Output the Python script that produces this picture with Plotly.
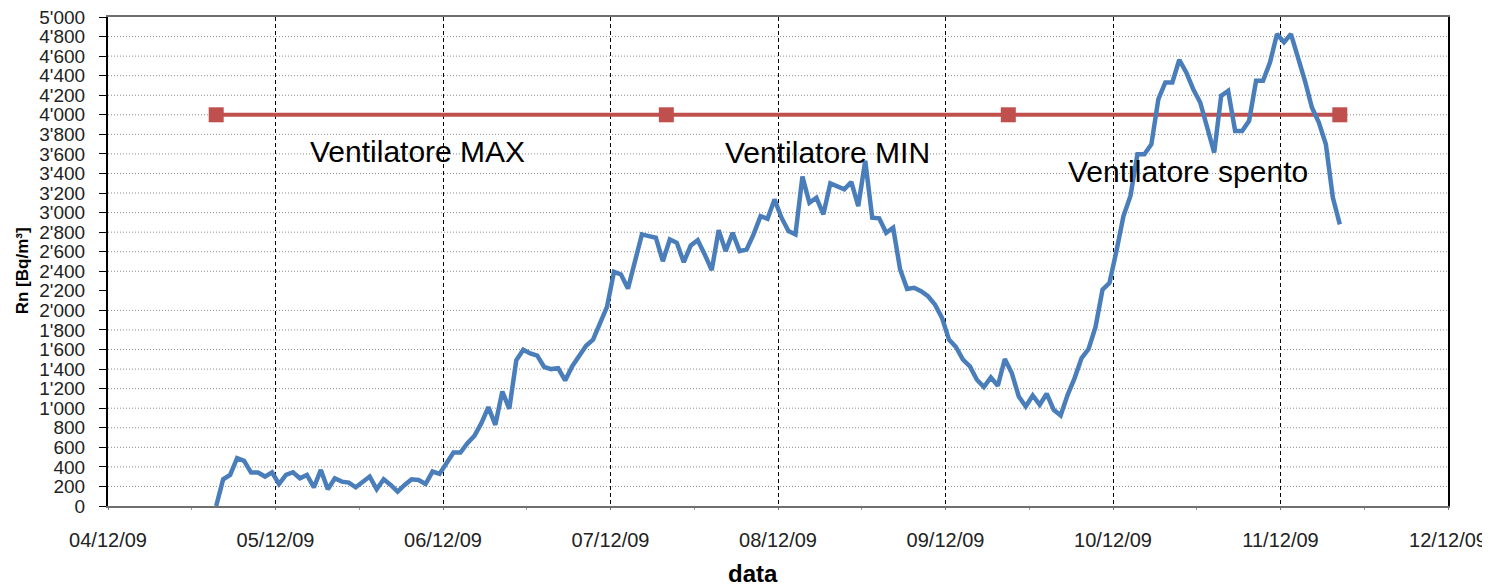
import pandas as pd
import plotly.graph_objects as go

# --- data ---
rn_start = "2009-12-04 15:30"  # first hourly sample
rn_values = [
    0, 273, 318, 489, 461, 342, 342, 301, 345, 225,
    318, 345, 283, 318, 191, 369, 171, 283, 249, 239,
    191, 249, 301, 171, 273, 215, 147, 215, 273, 266,
    225, 352, 328, 437, 546, 546, 642, 717, 847, 1011,
    830, 1171, 994, 1489, 1598, 1560, 1537, 1421, 1400, 1410,
    1284, 1427, 1530, 1639, 1701, 1855, 2036, 2394, 2367, 2223,
    2521, 2777, 2760, 2743, 2503, 2725, 2691, 2493, 2664, 2718,
    2572, 2411, 2821, 2606, 2794, 2606, 2623, 2777, 2964, 2937,
    3135, 2948, 2811, 2777, 3368, 3101, 3153, 2982, 3299, 3272,
    3238, 3313, 3067, 3530, 2948, 2941, 2794, 2845, 2418, 2220,
    2231, 2196, 2145, 2059, 1923, 1701, 1626, 1496, 1427, 1291,
    1216, 1315, 1230, 1503, 1360, 1120, 1017, 1130, 1035, 1148,
    984, 925, 1137, 1308, 1513, 1605, 1830, 2213, 2282, 2610,
    2964, 3170, 3596, 3596, 3699, 4160, 4331, 4331, 4563, 4433,
    4262, 4126, 3886, 3614, 4194, 4245, 3835, 3835, 3938, 4348,
    4348, 4536, 4826, 4741, 4826, 4604, 4348, 4075, 3921, 3699,
    3153, 2879,
]
rn_times = pd.date_range(rn_start, periods=len(rn_values), freq="h")

limit_times = ["2009-12-04 15:30", "2009-12-07 08:00", "2009-12-09 09:00", "2009-12-11 08:30"]
limit_values = [4000, 4000, 4000, 4000]

x_ticks = pd.date_range("2009-12-04", "2009-12-12", freq="D")
y_ticks = list(range(0, 5001, 200))
y_ticktext = [f"{v:,}".replace(",", "'") for v in y_ticks]
y_grid_skip = [2200]  # this gridline is not drawn in the reference

labels = ["Ventilatore MAX", "Ventilatore MIN", "Ventilatore spento"]
label_pos = [(0.2313, 0.724), (0.537, 0.722), (0.806, 0.685)]

FONT = "Liberation Sans, Arial, sans-serif"

fig = go.Figure()

fig.add_trace(go.Scatter(
    x=limit_times, y=limit_values, mode="lines+markers",
    line=dict(color="#C0504D", width=4),
    marker=dict(symbol="square", size=15, color="#C0504D"),
    showlegend=False, hoverinfo="skip",
))
fig.add_trace(go.Scatter(
    x=rn_times, y=rn_values, mode="lines",
    line=dict(color="#4A7EBB", width=4.5),
    showlegend=False,
))

# horizontal dotted gridlines
for v in y_ticks[1:-1]:
    if v in y_grid_skip:
        continue
    fig.add_shape(type="line", xref="paper", x0=0, x1=1, yref="y", y0=v, y1=v,
                  line=dict(color="#8c8c8c", width=1, dash="1px,2px"), layer="below")

for text, (px, py) in zip(labels, label_pos):
    fig.add_annotation(text=text, x=px, y=py, xref="paper", yref="paper",
                       xanchor="center", yanchor="middle",
                       showarrow=False, font=dict(family=FONT, size=30, color="black"))

fig.add_annotation(text="<b>Rn [Bq/m³]</b>", x=0, y=0.48, xref="paper", yref="paper",
                   xanchor="center", yanchor="middle",
                   xshift=-86, textangle=-90, showarrow=False,
                   font=dict(family=FONT, size=17, color="black"))
fig.add_annotation(text="<b>data</b>", x=0.481, y=0, xref="paper", yref="paper",
                   xanchor="center", yanchor="middle",
                   yshift=-67, showarrow=False,
                   font=dict(family=FONT, size=24, color="black"))

# the page body adds an 8px offset, so the figure is sized to fill the 1490x588 window
fig.update_layout(
    width=1482, height=580,
    margin=dict(l=100, r=42, t=9, b=82, autoexpand=False),
    paper_bgcolor="white", plot_bgcolor="white",
    font=dict(family=FONT, color="black"),
    showlegend=False,
)
fig.update_xaxes(
    automargin=False,
    range=["2009-12-04", "2009-12-12"],
    tickvals=list(x_ticks), tickformat="%d/%m/%y",
    tickfont=dict(size=20, color="#222"),
    ticks="outside", ticklen=2, tickcolor="#777",
    ticklabelstandoff=13, ticklabeloverflow="allow",
    showgrid=True, gridcolor="black", gridwidth=1.4, griddash="4px,3px",
    showline=True, linecolor="#6f6f6f", linewidth=2, mirror=True,
    zeroline=False,
    minor=dict(dtick=43200000, ticks="outside", ticklen=2, tickcolor="#999", showgrid=False),
)
fig.update_yaxes(
    automargin=False,
    range=[0, 5000],
    tickvals=y_ticks, ticktext=y_ticktext,
    tickfont=dict(size=19, color="#222"),
    ticks="outside", ticklen=7, tickcolor="black",
    ticklabelstandoff=10, ticklabeloverflow="allow",
    showgrid=False,
    showline=True, linecolor="black", linewidth=2, mirror=True,
    zeroline=False,
)

fig.write_html("out.html")
